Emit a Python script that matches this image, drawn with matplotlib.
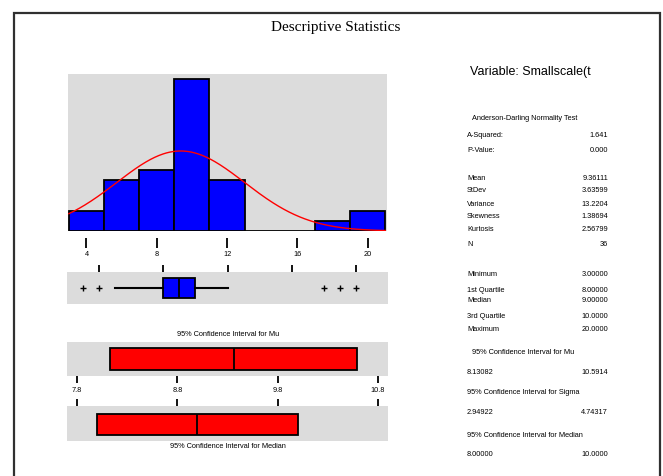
import numpy as np
import matplotlib
matplotlib.use("Agg")
import matplotlib.pyplot as plt
from matplotlib.patches import Rectangle

W, H = 663, 477

# histogram (bin width 2)
bin_edges = [3, 5, 7, 9, 11, 13, 15, 17, 19, 21]
bin_counts = [2, 5, 6, 15, 5, 0, 0, 1, 2]
hist_ticks = [4, 8, 12, 16, 20]

# summary numbers
n_obs = 36
mean = 9.36111
stdev = 3.63599
q1, median, q3 = 8.0, 9.0, 10.0
whisker_lo, whisker_hi = 5.0, 12.0
outliers = [3, 4, 18, 19, 20]
mu_ci = (8.13082, 10.5914)
median_ci = (8.0, 10.0)
ci_ticks = [7.8, 8.8, 9.8, 10.8]

stat_rows = [
    ("A-Squared:", "1.641", 136),
    ("P-Value:", "0.000", 151),
    ("Mean", "9.36111", 178),
    ("StDev", "3.63599", 191),
    ("Variance", "13.2204", 204),
    ("Skewness", "1.38694", 217),
    ("Kurtosis", "2.56799", 230),
    ("N", "36", 244),
    ("Minimum", "3.00000", 274),
    ("1st Quartile", "8.00000", 290),
    ("Median", "9.00000", 301),
    ("3rd Quartile", "10.0000", 317),
    ("Maximum", "20.0000", 330),
]
ci_rows = [
    ("95% Confidence Interval for Mu", 353, "8.13082", "10.5914", 372, 472),
    ("95% Confidence Interval for Sigma", 393, "2.94922", "4.74317", 413, 467),
    ("95% Confidence Interval for Median", 436, "8.00000", "10.0000", 455, 467),
]

GRAY = "#dcdcdc"
SMALL = 5.3
plt.rcParams['font.family'] = ['Liberation Sans', 'DejaVu Sans']


def px_axes(fig, x0, y0, x1, y1):
    return fig.add_axes([x0 / W, 1 - y1 / H, (x1 - x0) / W, (y1 - y0) / H])


def fpos(x, y):
    return x / W, 1 - y / H


def strip(ax, xlim, ticks, side, labels=False):
    ax.set_facecolor(GRAY)
    ax.set_xlim(*xlim)
    ax.set_ylim(-0.5, 0.5)
    ax.set_yticks([])
    for s in ax.spines.values():
        s.set_visible(False)
    ax.set_xticks(ticks)
    ax.tick_params(axis='x', direction='out', length=5, width=1.3,
                   bottom=(side == 'bottom'), top=(side == 'top'),
                   labelbottom=labels, labeltop=False,
                   labelsize=SMALL, pad=2)


fig = plt.figure(figsize=(W / 100, H / 100), dpi=100)
fig.patches.append(Rectangle((14 / W, -0.05), 646 / W, 1 - 14 / H + 0.05,
                             transform=fig.transFigure, fill=False,
                             edgecolor='#303030', linewidth=1.6))
fig.text(*fpos(336, 28), "Descriptive Statistics", ha='center', va='center',
         fontsize=11, family='Liberation Serif')

# histogram with fitted normal curve
ax = px_axes(fig, 68, 75, 387, 232)
ax.set_facecolor(GRAY)
ax.bar(bin_edges[:-1], bin_counts, width=np.diff(bin_edges), align='edge',
       color='#0000ff', edgecolor='black', linewidth=1.3)
xs = np.linspace(bin_edges[0], bin_edges[-1], 300)
pdf = n_obs * 2 / (stdev * np.sqrt(2 * np.pi)) * np.exp(-0.5 * ((xs - mean) / stdev) ** 2)
ax.plot(xs, pdf, color='red', linewidth=1)
ax.set_xlim(2.95, 21.1)
ax.set_ylim(0, 15.5)
ax.set_yticks([])
for s in ax.spines.values():
    s.set_visible(False)
ax.spines['bottom'].set_position(('outward', 5))
ax.set_xticks(hist_ticks)
ax.tick_params(axis='x', direction='out', length=7, width=1.3,
               labelsize=SMALL, pad=2)

# boxplot strip
ax = px_axes(fig, 67, 273, 388, 305)
ax.bxp([dict(med=median, q1=q1, q3=q3, whislo=whisker_lo, whishi=whisker_hi,
             fliers=outliers)],
       positions=[0], widths=0.62, orientation='horizontal', showcaps=False,
       patch_artist=True,
       boxprops=dict(facecolor='#0000ff', edgecolor='black', linewidth=1.3),
       medianprops=dict(color='black', linewidth=1.3),
       whiskerprops=dict(color='black', linewidth=1.5),
       flierprops=dict(marker='+', markersize=4, markeredgecolor='black',
                       markeredgewidth=1))
strip(ax, (2, 22), hist_ticks, 'top')

fig.text(*fpos(228, 335), "95% Confidence Interval for Mu", ha='center',
         va='center', fontsize=SMALL)

# confidence interval for mu
ax = px_axes(fig, 67, 343, 388, 377)
strip(ax, (7.7, 10.9), ci_ticks, 'bottom', labels=True)
ax.barh(0, mu_ci[1] - mu_ci[0], left=mu_ci[0], height=0.65,
        color='red', edgecolor='black', linewidth=1.3)
ax.vlines(mean, -0.325, 0.325, color='black', linewidth=1.3)

# confidence interval for median
ax = px_axes(fig, 67, 407, 388, 442)
strip(ax, (7.7, 10.9), ci_ticks, 'top')
ax.barh(-0.03, median_ci[1] - median_ci[0], left=median_ci[0], height=0.6,
        color='red', edgecolor='black', linewidth=1.3)
ax.vlines(median, -0.33, 0.27, color='black', linewidth=1.3)

fig.text(*fpos(228, 447), "95% Confidence Interval for Median", ha='center',
         va='center', fontsize=SMALL)

# statistics panel
fig.text(*fpos(470, 72), "Variable: Smallscale(t", ha='left', va='center',
         fontsize=9)
fig.text(*fpos(472, 119), "Anderson-Darling Normality Test", ha='left',
         va='center', fontsize=SMALL)
for label, value, y in stat_rows:
    fig.text(*fpos(467, y), label, ha='left', va='center', fontsize=SMALL)
    fig.text(*fpos(608, y), value, ha='right', va='center', fontsize=SMALL)
for head, yh, lo, hi, yv, xh in ci_rows:
    fig.text(*fpos(xh, yh), head, ha='left', va='center', fontsize=SMALL)
    fig.text(*fpos(467, yv), lo, ha='left', va='center', fontsize=SMALL)
    fig.text(*fpos(608, yv), hi, ha='right', va='center', fontsize=SMALL)

fig.savefig("out.png", dpi=100)
